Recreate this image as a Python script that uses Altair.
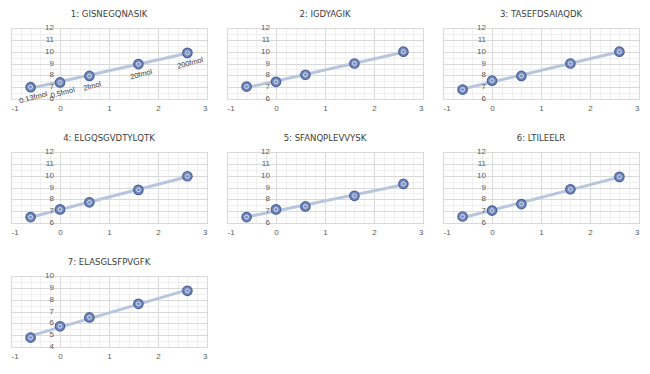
import altair as alt
import pandas as pd

# ---- data ----
x_vals = [-0.6, 0.0, 0.6, 1.6, 2.6]
amount_labels = ["0.13fmol", "0.5fmol", "2fmol", "20fmol", "200fmol"]
titles = [
    "1: GISNEGQNASIK",
    "2: IGDYAGIK",
    "3: TASEFDSAIAQDK",
    "4: ELGQSGVDTYLQTK",
    "5: SFANQPLEVVYSK",
    "6: LTILEELR",
    "7: ELASGLSFPVGFK",
]
y_p1 = [7.0, 7.4, 7.95, 8.95, 9.9]
y_p2 = [7.05, 7.45, 8.05, 9.0, 10.0]
y_p3 = [6.8, 7.55, 7.95, 9.0, 10.0]
y_p4 = [6.5, 7.15, 7.75, 8.8, 9.95]
y_p5 = [6.5, 7.15, 7.4, 8.3, 9.3]
y_p6 = [6.55, 7.05, 7.6, 8.85, 9.9]
y_p7 = [4.8, 5.75, 6.5, 7.65, 8.75]
y_series = [y_p1, y_p2, y_p3, y_p4, y_p5, y_p6, y_p7]
y_domains = [[6, 12]] * 6 + [[4, 10]]
x_domain = [-1, 3]

FONT = "Liberation Sans"
TITLE_FONT = "Liberation Sans Narrow, DejaVu Sans Condensed, Liberation Sans"
MAJOR = "#d9d9d9"
MINOR = "#efefef"
TXT = "#595959"

x_grid = [round(-1 + 0.2 * i, 1) for i in range(21)]
grid_color = {
    "condition": {"test": "abs(datum.value - round(datum.value)) < 0.001", "value": MAJOR},
    "value": MINOR,
}


def panel(i):
    lo, hi = y_domains[i]
    df = pd.DataFrame({"x": x_vals, "y": y_series[i], "label": amount_labels})
    y_grid = [round(lo + 0.5 * k, 1) for k in range(int((hi - lo) * 2) + 1)]
    ylab = pd.DataFrame({
        "x": [0] * (hi - lo + 1),
        "y": list(range(lo, hi + 1)),
        "t": [str(v) for v in range(lo, hi + 1)],
    })
    xs = alt.Scale(domain=x_domain, nice=False, zero=False)
    ys = alt.Scale(domain=[lo, hi], nice=False, zero=False)
    xenc = alt.X(
        "x:Q", scale=xs, title=None,
        axis=alt.Axis(
            values=x_grid, grid=True, gridColor=grid_color, gridWidth=1,
            labelExpr="abs(datum.value - round(datum.value)) < 0.001 ? toString(round(datum.value)) : ''",
            labelOverlap=False, ticks=False, domain=True, domainColor=MAJOR,
            labelColor=TXT, labelFontSize=8, labelPadding=5, labelFont=FONT,
        ),
    )
    yenc = alt.Y(
        "y:Q", scale=ys, title=None,
        axis=alt.Axis(
            values=y_grid, grid=True, gridColor=grid_color, gridWidth=1,
            labels=False, ticks=False, domain=False,
        ),
    )
    base = alt.Chart(df)
    line = base.transform_regression("x", "y").mark_line(
        color="#b7c5de", strokeWidth=3
    ).encode(x=xenc, y=yenc)
    outer = base.mark_point(
        shape="circle", filled=True, size=90, fill="#7489bb", stroke="#4b629b",
        strokeWidth=1.2, opacity=1,
    ).encode(x=xenc, y=yenc)
    inner = base.mark_point(
        shape="circle", filled=False, size=14, stroke="#dbe3f1", strokeWidth=1, opacity=1,
    ).encode(x=xenc, y=yenc)
    ytext = alt.Chart(ylab).mark_text(
        align="right", baseline="middle", dx=-6, fontSize=8, color=TXT, font=FONT
    ).encode(x=xenc, y=yenc, text="t:N")
    layers = [line, outer, inner, ytext]
    if i == 0:
        lab = base.mark_text(
            angle=345, dy=11, fontSize=7.5, color="#404040", font=FONT
        ).encode(x=xenc, y=yenc, text="label:N")
        layers.append(lab)
    return alt.layer(*layers).properties(
        width=196, height=71,
        title=alt.TitleParams(
            titles[i], fontSize=9.5, font=TITLE_FONT, fontWeight="normal",
            color="#404040", offset=6, anchor="middle",
        ),
    )


panels = [panel(i) for i in range(7)]

chart = alt.concat(
    *panels, columns=3, spacing={"row": 53, "column": 20}, bounds="flush"
).properties(
    padding={"left": 2, "top": 0, "right": 0, "bottom": 0},
    background="white",
).configure_view(stroke=None).configure(font=FONT)

chart.save("out.html", embed_options={"renderer": "svg", "actions": False})
